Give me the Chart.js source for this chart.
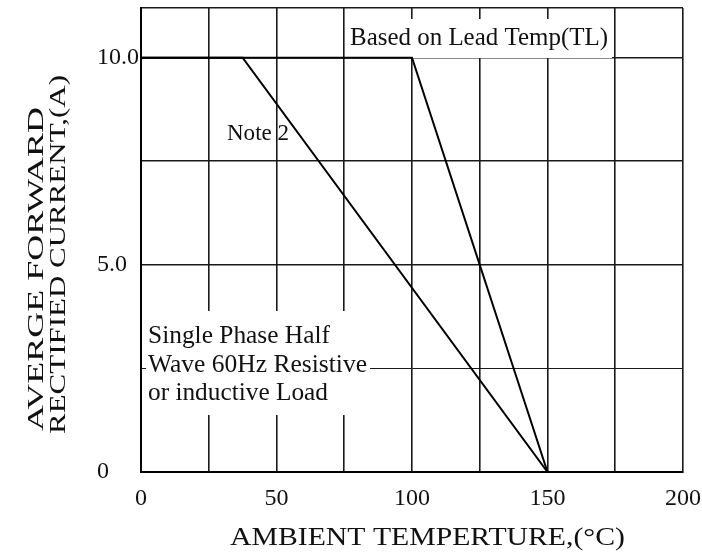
<!DOCTYPE html>
<html>
<head>
<meta charset="utf-8">
<script src="https://cdn.jsdelivr.net/npm/chart.js@4"></script>
<style>
  html, body { margin: 0; padding: 0; background: #fff; }
  #wrap { width: 702px; height: 554px; }
</style>
</head>
<body>
<div id="wrap"><canvas id="myChart"></canvas></div>
<script>
// data
const noteLine = [
  { x: 0, y: 10 },
  { x: 37.5, y: 10 },
  { x: 150, y: 0 },
];
const leadLine = [
  { x: 0, y: 10 },
  { x: 100, y: 10 },
  { x: 150, y: 0 },
];
const xTickLabels = [0, 50, 100, 150, 200];
const yTickLabels = { 0: "0", 5: "5.0", 10: "10.0" };

const serif = "'Liberation Serif', 'Times New Roman', serif";

// draw text stretched to a given width (the scan is not evenly scaled)
function fitText(ctx, text, x, y, w, size) {
  ctx.font = size + "px " + serif;
  const k = w / ctx.measureText(text).width;
  ctx.save();
  ctx.translate(x, y);
  ctx.scale(k, 1);
  ctx.fillText(text, 0, 0);
  ctx.restore();
}

// titles and notes drawn on the canvas, white boxes hide the grid under them
const textPlugin = {
  id: "texts",
  beforeDatasetsDraw(chart) {
    const ctx = chart.ctx;
    ctx.save();
    ctx.fillStyle = "#fff";
    ctx.fillRect(146, 311, 224, 104); // under "Single Phase..."
    ctx.fillRect(348, 19, 264, 39); // under "Based on Lead..."
    ctx.restore();
  },
  afterDraw(chart) {
    const ctx = chart.ctx;
    ctx.save();
    ctx.fillStyle = "#111";
    ctx.textBaseline = "alphabetic";
    ctx.textAlign = "left";

    fitText(ctx, "Based on Lead Temp(TL)", 350, 45, 258, 25);
    fitText(ctx, "Note 2", 227, 140, 62, 24);
    fitText(ctx, "Single Phase Half", 148, 343, 182, 25);
    fitText(ctx, "Wave 60Hz Resistive", 148, 372, 219, 25);
    fitText(ctx, "or inductive Load", 148, 400, 180, 25);

    fitText(ctx, "AMBIENT TEMPERTURE,(\u00B0C)", 230, 545, 395, 25);

    ctx.save();
    ctx.translate(43, 431);
    ctx.rotate(-Math.PI / 2);
    fitText(ctx, "AVERGE FORWARD", 0, 0, 324, 24);
    ctx.restore();
    ctx.save();
    ctx.translate(65, 434);
    ctx.rotate(-Math.PI / 2);
    fitText(ctx, "RECTIFIED CURRENT,(A)", 0, 0, 359, 24);
    ctx.restore();
    ctx.restore();
  },
};

const config = {
  type: "line",
  data: {
    datasets: [
      {
        label: "Note 2",
        data: noteLine,
        borderColor: "#000",
        borderWidth: 2,
        pointRadius: 0,
        tension: 0,
      },
      {
        label: "Based on Lead Temp(TL)",
        data: leadLine,
        borderColor: "#000",
        borderWidth: 2,
        pointRadius: 0,
        tension: 0,
      },
    ],
  },
  options: {
    responsive: true,
    maintainAspectRatio: false,
    animation: false,
    layout: { padding: { left: 97, top: 8, right: 19, bottom: 0 } },
    plugins: {
      legend: { display: false },
      tooltip: { enabled: false },
    },
    scales: {
      x: {
        type: "linear",
        min: 0,
        max: 200,
        afterFit: (s) => {
          s.height = 554 - 472;
          s.paddingLeft = 0;
          s.paddingRight = 0;
        },
        afterBuildTicks: (s) => {
          s.ticks = [0, 25, 50, 75, 100, 125, 150, 175, 200].map((v) => ({ value: v }));
        },
        grid: { color: "#1a1a1a", lineWidth: 1.6, drawTicks: false },
        border: { color: "#000", width: 2 },
        ticks: {
          padding: 12,
          color: "#111",
          font: { family: serif, size: 24 },
          maxRotation: 0,
          autoSkip: false,
          callback: (v) => (xTickLabels.includes(v) ? String(v) : ""),
        },
      },
      y: {
        type: "linear",
        min: 0,
        max: 11.2,
        afterFit: (s) => {
          s.width = 141 - 97;
          s.paddingTop = 0;
          s.paddingBottom = 0;
        },
        afterBuildTicks: (s) => {
          s.ticks = [0, 2.5, 5, 7.5, 10, 11.2].map((v) => ({ value: v }));
        },
        grid: {
          color: "#1a1a1a",
          lineWidth: (c) => (c.tick && c.tick.value === 2.5 ? 1 : 1.6),
          drawTicks: false,
        },
        border: { color: "#000", width: 2 },
        ticks: {
          crossAlign: "far",
          color: "#111",
          font: { family: serif, size: 24 },
          autoSkip: false,
          callback: (v) => (yTickLabels[v] !== undefined ? yTickLabels[v] : ""),
        },
      },
    },
  },
  plugins: [textPlugin],
};

const myChart = new Chart(document.getElementById("myChart"), config);
</script>
</body>
</html>
